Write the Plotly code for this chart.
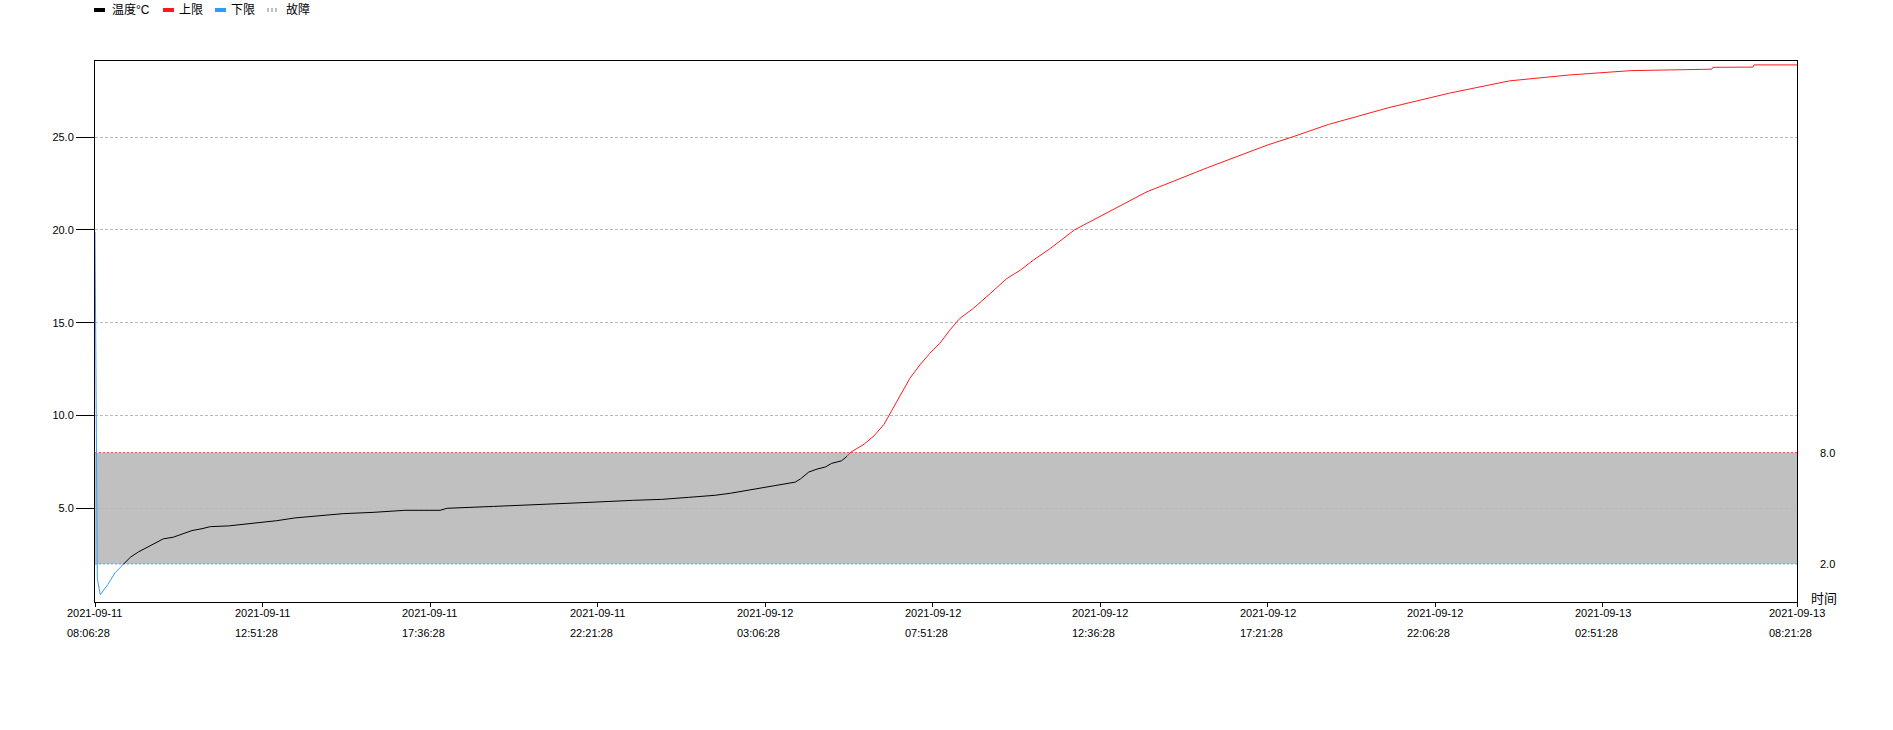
import pandas as pd
import plotly.graph_objects as go

# ---------------- data ----------------
START = "2021-09-11 08:06:28"
END = "2021-09-13 08:21:28"
# minutes after START
minutes = [0, 4, 9, 22, 34, 48, 60, 74, 99, 116, 133, 150, 165, 182, 196, 227, 250,
           278, 309, 340, 377, 422, 473, 527, 587, 599, 678, 763, 842, 916, 964, 1010,
           1055, 1081, 1100, 1120, 1140, 1165, 1191, 1200, 1214, 1228, 1242, 1253, 1270,
           1279, 1286, 1308, 1325, 1342, 1353, 1369, 1386, 1403, 1420, 1437, 1454, 1471,
           1494, 1523, 1551, 1574, 1596, 1625, 1666, 1687, 1789, 1892, 1995, 2036, 2098,
           2201, 2304, 2406, 2509, 2612, 2714, 2750, 2752, 2820, 2822, 2895]
temperature = [19.9, 1.2, 0.34, 0.9, 1.52, 1.97, 2.36, 2.65, 3.08, 3.35, 3.44, 3.62, 3.80,
               3.90, 4.01, 4.05, 4.12, 4.23, 4.33, 4.48, 4.60, 4.71, 4.78, 4.89, 4.89, 5.0,
               5.1, 5.2, 5.32, 5.43, 5.48, 5.59, 5.70, 5.81, 5.91, 6.03, 6.13, 6.28, 6.41,
               6.58, 6.95, 7.11, 7.22, 7.42, 7.56, 7.80, 8.03, 8.45, 8.9, 9.52, 10.15, 11.1,
               12.0, 12.72, 13.35, 13.89, 14.6, 15.23, 15.77, 16.58, 17.38, 17.83, 18.37,
               19.0, 20.0, 20.35, 22.05, 23.35, 24.58, 25.0, 25.68, 26.59, 27.37, 28.03,
               28.35, 28.58, 28.66, 28.66, 28.76, 28.77, 28.89, 28.89]
UPPER = 8.0
LOWER = 2.0
TICK_STEP_MIN = 285
Y_TICKS = [5, 10, 15, 20, 25]
LEGEND_NAMES = ["温度°C", "上限", "下限", "故障"]
X_TITLE = "时间"

# ---------------- build ----------------
t0 = pd.Timestamp(START)
t_end = pd.Timestamp(END)
times = [t0 + pd.Timedelta(minutes=m) for m in minutes]

# colour each segment by the value at its end point
segs = {"black": ([], []), "red": ([], []), "blue": ([], [])}
for i in range(len(temperature) - 1):
    v1 = temperature[i + 1]
    c = "red" if v1 > UPPER else ("blue" if v1 < LOWER else "black")
    xs, ys = segs[c]
    if xs and xs[-1] == times[i]:
        xs.append(times[i + 1]); ys.append(temperature[i + 1])
    else:
        if xs:
            xs.append(None); ys.append(None)
        xs += [times[i], times[i + 1]]
        ys += [temperature[i], temperature[i + 1]]

FONT = "Liberation Sans, Arial, Noto Sans CJK SC, sans-serif"
fig = go.Figure()

# limit lines
fig.add_trace(go.Scatter(x=[t0, t_end], y=[LOWER, LOWER], mode="lines",
                         line=dict(color="#4da3ff", width=1, dash="2px,2px"),
                         showlegend=False, hoverinfo="skip"))
fig.add_trace(go.Scatter(x=[t0, t_end], y=[UPPER, UPPER], mode="lines",
                         line=dict(color="#ff4d4d", width=1, dash="2px,2px"),
                         showlegend=False, hoverinfo="skip"))

fig.add_trace(go.Scatter(x=segs["black"][0], y=segs["black"][1], mode="lines",
                         line=dict(color="black", width=1), showlegend=False))
fig.add_trace(go.Scatter(x=segs["red"][0], y=segs["red"][1], mode="lines",
                         line=dict(color="#ff1a1a", width=1),
                         showlegend=False))
fig.add_trace(go.Scatter(x=segs["blue"][0], y=segs["blue"][1], mode="lines",
                         line=dict(color="#3a9bff", width=1),
                         showlegend=False))

shapes = [dict(type="rect", xref="x", yref="y", x0=t0, x1=t_end, y0=LOWER, y1=UPPER,
               fillcolor="#c0c0c0", line=dict(width=0), layer="below")]

# x tick positions: regular steps, then the end of the axis
tickvals = []
k = 0
while t0 + pd.Timedelta(minutes=(k + 0.5) * TICK_STEP_MIN) < t_end:
    tickvals.append(t0 + pd.Timedelta(minutes=k * TICK_STEP_MIN))
    k += 1
tickvals.append(t_end)

annotations = []
for tv in tickvals:
    annotations.append(dict(x=tv, xref="x", y=0, yref="paper", xanchor="left",
                            yanchor="middle", xshift=-30, yshift=-11, showarrow=False,
                            text=tv.strftime("%Y-%m-%d"), font=dict(size=11, color="black")))
    annotations.append(dict(x=tv, xref="x", y=0, yref="paper", xanchor="left",
                            yanchor="middle", xshift=-30, yshift=-31, showarrow=False,
                            text=tv.strftime("%H:%M:%S"), font=dict(size=11, color="black")))

for val in (UPPER, LOWER):
    annotations.append(dict(x=1, xref="paper", y=val, yref="y", xanchor="left",
                            yanchor="middle", xshift=21, showarrow=False,
                            text=f"{val:.1f}", font=dict(size=11, color="black")))

annotations.append(dict(x=1, xref="paper", y=0, yref="paper", xanchor="left",
                        yanchor="middle", xshift=12, yshift=4, showarrow=False,
                        text=X_TITLE, font=dict(size=13, color="black")))

# legend (manual)
PL, PW, PT, PH = 95, 1702, 61, 541
def px(xp):
    return (xp - PL) / PW
def py(yp):
    return (PT + PH - yp) / PH

legend_items = [
    (94, 105, 110, "black", "solid"),
    (163, 174, 177, "#ff1a1a", "solid"),
    (215, 226, 229, "#3399ff", "solid"),
    (267, 278, 284, "#c0c0c0", "dot"),
]
for (sx0, sx1, tx, col, dash), name in zip(legend_items, LEGEND_NAMES):
    shapes.append(dict(type="line", xref="paper", yref="paper", x0=px(sx0), x1=px(sx1),
                       y0=py(10), y1=py(10), line=dict(color=col, width=4,
                       dash="2px,2px" if dash == "dot" else "solid")))
    annotations.append(dict(x=px(tx), xref="paper", y=py(10), yref="paper",
                            xanchor="left", yanchor="middle", showarrow=False,
                            text=name, font=dict(size=12, color="black")))

fig.update_layout(
    width=1893, height=730,
    margin=dict(l=PL, r=1893 - PL - PW, t=PT, b=730 - PT - PH),
    paper_bgcolor="white", plot_bgcolor="white",
    font=dict(family=FONT, size=11, color="black"),
    showlegend=False,
    shapes=shapes, annotations=annotations,
    xaxis=dict(type="date", range=[t0, t_end], tickvals=tickvals, showticklabels=False,
               ticks="outside", ticklen=4, tickcolor="black", showgrid=False,
               showline=True, linecolor="black", linewidth=1, mirror=True, zeroline=False),
    yaxis=dict(range=[-0.05, 29.1], tickvals=Y_TICKS, tickformat=".1f",
               ticks="outside", ticklen=18, tickcolor="black", showgrid=True,
               gridcolor="#b8b8b8", griddash="3px,2px", gridwidth=1,
               showline=True, linecolor="black", linewidth=1, mirror=True, zeroline=False,
               tickfont=dict(size=11, color="black")),
)

fig.write_html("out.html", config={"displayModeBar": False},
               post_script="document.body.style.margin='0';document.body.style.overflow='hidden';")
